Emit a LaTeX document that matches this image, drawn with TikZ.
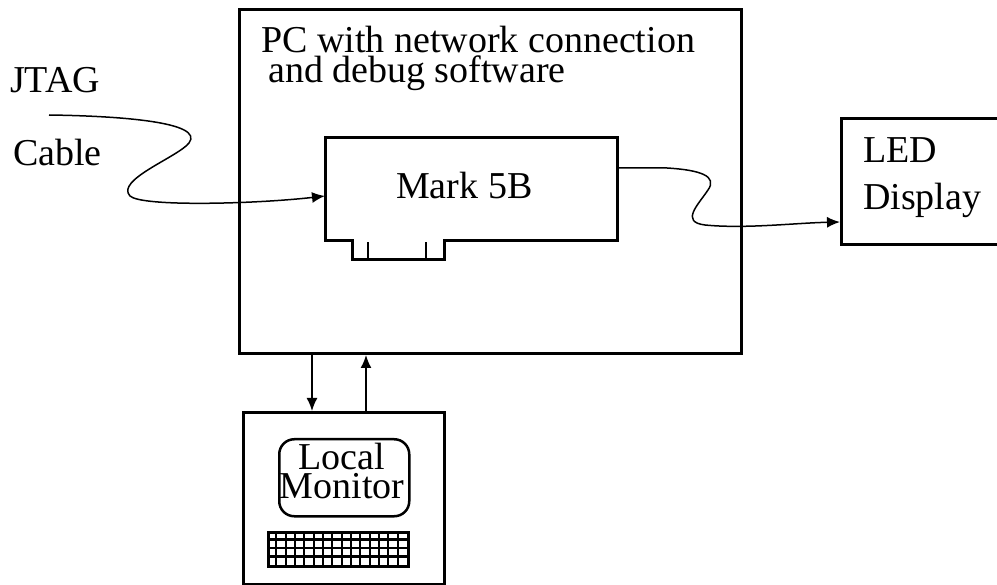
\documentclass[tikz,border=0pt]{standalone}
\usepackage{fontspec}
\setmainfont{Liberation Serif}
\usetikzlibrary{arrows.meta,calc}
\begin{document}
\begin{tikzpicture}[x=1pt,y=-1pt,
  boxnode/.style={draw,line width=3pt,inner sep=0pt,anchor=north west},
  ghost/.style={inner sep=0pt,anchor=north west},
  txt/.style={inner sep=0pt,anchor=base west,font=\fontsize{38}{40}\selectfont},
  txtc/.style={inner sep=0pt,anchor=base,font=\fontsize{38}{40}\selectfont},
  cable/.style={line width=1.5pt,-{Latex[length=13pt,width=11pt]}},
  link/.style={line width=1.6pt,-{Latex[length=13pt,width=11pt]}}]
\useasboundingbox (0,0) rectangle (997,585);
\fill[white] (0,0) rectangle (997,585);
% PC box
\node[boxnode,minimum width=502pt,minimum height=344pt] (pc) at (238,8) {};
% Mark 5B card
\node[ghost,minimum width=292pt,minimum height=102pt] (card) at (325,138) {};
\draw[line width=3pt,line join=miter]
  ($(card.south west)+(27,0)$) -- (card.south west) -- (card.north west) -- (card.north east)
  -- (card.south east) -- ($(card.south west)+(119,0)$) -- ++(0,19) -- ++(-92,0) -- cycle;
\draw[line width=2.5pt] ($(card.south west)+(43,2)$) -- ++(0,17);
\draw[line width=2.5pt] ($(card.south west)+(101,2)$) -- ++(0,17);
% LED box
\node[boxnode,minimum width=170pt,minimum height=126pt] (led) at (840,117) {};
% Monitor
\node[boxnode,minimum width=201pt,minimum height=172pt] (mon) at (242,411) {};
\node[draw,line width=2.5pt,rounded corners=15pt,inner sep=0pt,anchor=north west,
  minimum width=130pt,minimum height=77pt] (screen) at (278,438) {};
\node[draw,line width=3pt,inner sep=0pt,anchor=north west,
  minimum width=140pt,minimum height=34pt] (kbd) at (267,531) {};
\foreach \i in {1,...,14}
  \draw[line width=2.2pt] ($(kbd.north west)+(\i*9.333,0)$) -- ($(kbd.south west)+(\i*9.333,0)$);
\foreach \j in {1,2,3}
  \draw[line width=2.2pt] ($(kbd.north west)+(0,\j*8.5)$) -- ($(kbd.north east)+(0,\j*8.5)$);
% texts
\node[txt] (t1) at (261,53) {PC with network connection};
\node[txt] (t2) at (268,83) {and debug software};
\node[txt] (jtag) at (10,93) {JTAG};
\node[txt] (cab) at (13,166) {Cable};
\node[txt] (led1) at (863,163) {LED};
\node[txt] (led2) at (863,210) {Display};
\node[txt] (mark) at (396,199) {Mark 5B};
\node[txtc] (loc) at (342,470) {Local};
\node[txtc] (moni) at (342,499) {Monitor};
% cables
\coordinate (js) at (49,115);
\draw[cable] (js) .. controls (120,116) and (205,122) .. (189,143)
  .. controls (178,157) and (115,180) .. (130,196)
  .. controls (142,207) and (255,204) .. (card.west |- 0,196);
\coordinate (ls) at (card.east |- 0,168);
\draw[cable] (ls) -- (667,168) .. controls (700,170) and (718,176) .. (708,190)
  .. controls (698,205) and (680,222) .. (705,225)
  .. controls (745,229) and (795,223) .. (led.west |- 0,222);
% monitor links
\coordinate (dn) at (312,0);
\coordinate (up) at (366,0);
\draw[link] (pc.south -| dn) -- (mon.north -| dn);
\draw[link] (mon.north -| up) -- (pc.south -| up);
\end{tikzpicture}
\end{document}
